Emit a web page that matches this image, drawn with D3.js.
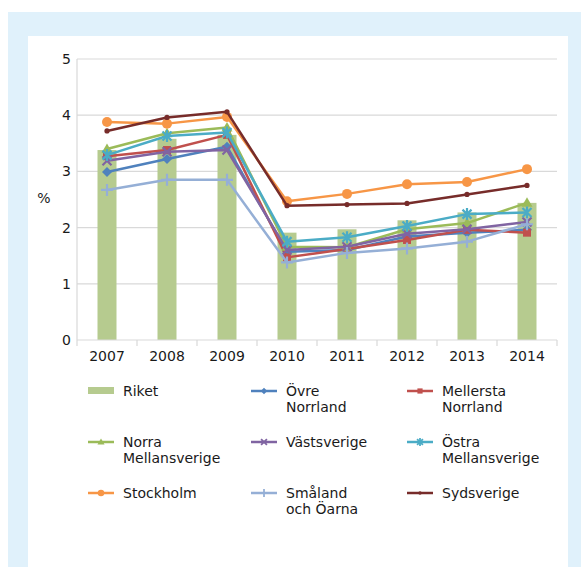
<!DOCTYPE html>
<html>
<head>
<meta charset="utf-8">
<script src="https://cdn.jsdelivr.net/npm/d3@7"></script>
<style>
  body { margin: 0; background: #fff; }
  svg { display: block; font-family: "DejaVu Sans", Verdana, sans-serif; }
</style>
</head>
<body>
<div id="viz"></div>
<script>
// data
const years = ['2007', '2008', '2009', '2010', '2011', '2012', '2013', '2014'];
const riket = [3.38, 3.58, 3.65, 1.91, 1.97, 2.13, 2.27, 2.44];

const ovreNorrland = [2.99, 3.22, 3.44, 1.57, 1.60, 1.84, 1.91, 1.96];
const mellerstaNorrland = [3.27, 3.38, 3.65, 1.47, 1.62, 1.78, 1.96, 1.91];
const norraMellansverige = [3.40, 3.68, 3.78, 1.66, 1.65, 1.97, 2.08, 2.44];
const vastsverige = [3.19, 3.35, 3.38, 1.60, 1.66, 1.89, 1.97, 2.10];
const ostraMellansverige = [3.29, 3.63, 3.69, 1.75, 1.83, 2.03, 2.24, 2.27];
const stockholm = [3.88, 3.85, 3.97, 2.47, 2.60, 2.77, 2.81, 3.04];
const smaland = [2.67, 2.85, 2.85, 1.38, 1.55, 1.63, 1.75, 2.06];
const sydsverige = [3.72, 3.96, 4.06, 2.39, 2.41, 2.43, 2.59, 2.75];

const yTicks = [0, 1, 2, 3, 4, 5];

const series = [
  {name: ['Övre', 'Norrland'], values: ovreNorrland, color: '#4F81BD', marker: 'diamond'},
  {name: ['Mellersta', 'Norrland'], values: mellerstaNorrland, color: '#C0504D', marker: 'square'},
  {name: ['Norra', 'Mellansverige'], values: norraMellansverige, color: '#9BBB59', marker: 'triangle'},
  {name: ['Västsverige'], values: vastsverige, color: '#8064A2', marker: 'x'},
  {name: ['Östra', 'Mellansverige'], values: ostraMellansverige, color: '#4BACC6', marker: 'star'},
  {name: ['Stockholm'], values: stockholm, color: '#F79646', marker: 'circle'},
  {name: ['Småland', 'och Öarna'], values: smaland, color: '#95AFD6', marker: 'plus'},
  {name: ['Sydsverige'], values: sydsverige, color: '#772C2A', marker: 'dot'}
];

const width = 581, height = 567;
const margin = {top: 59, right: 24, bottom: 227, left: 77};
const barColor = '#B6CB8F';
const gridColor = '#D9D9D9';
const textColor = '#1A1A1A';

const svg = d3.select('#viz').append('svg')
  .attr('width', width)
  .attr('height', height)
  .attr('role', 'img')
  .attr('aria-label', 'Procent per region 2007-2014');

// frame
svg.append('rect').attr('x', 8).attr('y', 12).attr('width', width - 8).attr('height', height - 12).attr('fill', '#E0F1FB');
svg.append('rect').attr('x', 28).attr('y', 36).attr('width', 540).attr('height', height - 36).attr('fill', '#fff');

const x = d3.scaleBand().domain(years).range([margin.left, width - margin.right]);
const y = d3.scaleLinear().domain([0, 5]).range([height - margin.bottom, margin.top]);

// gridlines
svg.append('g').selectAll('line').data(yTicks.slice(1)).join('line')
  .attr('x1', margin.left).attr('x2', width - margin.right)
  .attr('y1', d => y(d)).attr('y2', d => y(d))
  .attr('stroke', gridColor).attr('stroke-width', 1.2);

// y axis line
svg.append('line')
  .attr('x1', margin.left).attr('x2', margin.left)
  .attr('y1', y(5)).attr('y2', y(0))
  .attr('stroke', gridColor).attr('stroke-width', 1.2);

// y labels
svg.append('g').selectAll('text').data(yTicks).join('text')
  .attr('x', margin.left - 6).attr('y', d => y(d))
  .attr('dy', '0.36em').attr('text-anchor', 'end')
  .attr('font-size', 14).attr('fill', textColor)
  .text(d => d);

svg.append('text').attr('x', 44).attr('y', 198).attr('dy', '0.36em')
  .attr('text-anchor', 'middle').attr('font-size', 14).attr('fill', textColor).text('%');

// bars
const bw = 19;
svg.append('g').selectAll('rect').data(riket).join('rect')
  .attr('x', (d, i) => x(years[i]) + x.bandwidth() / 2 - bw / 2)
  .attr('y', d => y(d))
  .attr('width', bw)
  .attr('height', d => y(0) - y(d))
  .attr('fill', barColor);

// x axis
svg.append('line')
  .attr('x1', margin.left).attr('x2', width - margin.right)
  .attr('y1', y(0)).attr('y2', y(0))
  .attr('stroke', gridColor).attr('stroke-width', 1.2);
const bounds = years.map(d => x(d)).concat([x(years[years.length - 1]) + x.bandwidth()]);
svg.append('g').selectAll('line').data(bounds).join('line')
  .attr('x1', d => d).attr('x2', d => d)
  .attr('y1', y(0)).attr('y2', y(0) + 6)
  .attr('stroke', gridColor).attr('stroke-width', 1.2);
svg.append('g').selectAll('text').data(years).join('text')
  .attr('x', d => x(d) + x.bandwidth() / 2).attr('y', y(0) + 16)
  .attr('dy', '0.36em').attr('text-anchor', 'middle')
  .attr('font-size', 14).attr('fill', textColor)
  .text(d => d);

function drawMarker(g, type, color, cx, cy, k = 1) {
  const s = 5 * k;
  if (type === 'diamond') {
    g.append('path').attr('d', `M${cx},${cy - s}L${cx + s},${cy}L${cx},${cy + s}L${cx - s},${cy}Z`).attr('fill', color);
  } else if (type === 'square') {
    g.append('rect').attr('x', cx - 4 * k).attr('y', cy - 4 * k).attr('width', 8 * k).attr('height', 8 * k).attr('fill', color);
  } else if (type === 'triangle') {
    g.append('path').attr('d', `M${cx},${cy - 5.5 * k}L${cx + 5.5 * k},${cy + 4 * k}L${cx - 5.5 * k},${cy + 4 * k}Z`).attr('fill', color);
  } else if (type === 'circle') {
    g.append('circle').attr('cx', cx).attr('cy', cy).attr('r', s).attr('fill', color);
  } else if (type === 'dot') {
    g.append('circle').attr('cx', cx).attr('cy', cy).attr('r', 2.6 * k).attr('fill', color);
  } else {
    const a = 4.5 * k, b = 6 * k;
    let d = '';
    if (type === 'x' || type === 'star') d += `M${cx - a},${cy - a}L${cx + a},${cy + a}M${cx - a},${cy + a}L${cx + a},${cy - a}`;
    if (type === 'star' || type === 'plus') d += `M${cx},${cy - b}L${cx},${cy + b}`;
    if (type === 'plus') d += `M${cx - b},${cy}L${cx + b},${cy}`;
    g.append('path').attr('d', d).attr('stroke', color).attr('stroke-width', 2.2 * Math.max(k, 0.8)).attr('fill', 'none');
  }
}

// lines
const line = d3.line().x((d, i) => x(years[i]) + x.bandwidth() / 2).y(d => y(d));
series.forEach(s => {
  const g = svg.append('g');
  g.append('path').datum(s.values).attr('d', line)
    .attr('fill', 'none').attr('stroke', s.color).attr('stroke-width', 2.5).attr('stroke-linejoin', 'round');
  s.values.forEach((v, i) => drawMarker(g, s.marker, s.color, x(years[i]) + x.bandwidth() / 2, y(v)));
});

// legend
const colX = [88, 251, 407];
const rowY = [391, 442, 493];
const leg = svg.append('g');
leg.append('rect').attr('x', colX[0]).attr('y', rowY[0] - 4).attr('width', 26).attr('height', 7).attr('fill', barColor);
leg.append('text').attr('x', colX[0] + 35).attr('y', rowY[0]).attr('dy', '0.36em')
  .attr('font-size', 14).attr('fill', textColor).text('Riket');
series.forEach((s, k) => {
  const idx = k + 1;
  const lx = colX[idx % 3], ly = rowY[Math.floor(idx / 3)];
  const g = leg.append('g');
  g.append('line').attr('x1', lx).attr('x2', lx + 26).attr('y1', ly).attr('y2', ly)
    .attr('stroke', s.color).attr('stroke-width', 2.5);
  drawMarker(g, s.marker, s.color, lx + 13, ly, 0.65);
  s.name.forEach((t, j) => {
    g.append('text').attr('x', lx + 35).attr('y', ly + j * 16).attr('dy', '0.36em')
      .attr('font-size', 14).attr('fill', textColor).text(t);
  });
});
</script>
</body>
</html>
